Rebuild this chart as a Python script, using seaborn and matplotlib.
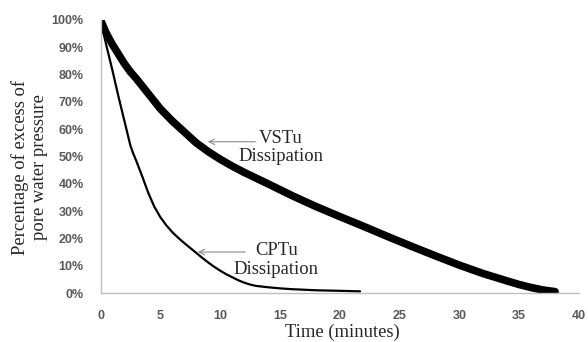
import pandas as pd
import matplotlib
matplotlib.use('Agg')
import matplotlib.pyplot as plt
import seaborn as sns

# VSTu dissipation (time in minutes, % excess pore pressure)
vstu_time = [0, 0.25, 0.5, 1, 1.5, 2, 2.5, 3, 4, 5, 6, 7, 8, 9, 10, 11, 12,
             14, 16, 18, 20, 22, 24, 26, 28, 30, 32, 34, 35, 36, 37, 38]
vstu_pct = [100, 97.5, 95, 91, 87.5, 84, 81, 78.5, 73, 67.5, 63, 59, 55,
            51.8, 49, 46.5, 44.2, 40, 35.7, 31.7, 28, 24.4, 20.7, 17.1, 13.6,
            10.2, 7.1, 4.4, 3.1, 2, 1.1, 0.5]

# CPTu dissipation
cptu_time = [0, 0.5, 1, 1.5, 2, 2.5, 2.7, 3, 3.5, 4, 4.5, 5, 5.5, 6, 6.5, 7,
             7.5, 8, 8.5, 9, 9.5, 10, 10.5, 11, 11.5, 12, 12.5, 13, 14, 15,
             16, 18, 20, 21.7]
cptu_pct = [100, 90.5, 81.5, 72, 63, 54, 51.5, 48.3, 42.6, 36.6, 31.6, 27.8,
            24.8, 22.3, 20.2, 18.3, 16.5, 14.7, 12.9, 11.2, 9.6, 8.2, 6.9, 5.8,
            4.7, 3.8, 3.1, 2.6, 2.1, 1.7, 1.4, 1.0, 0.8, 0.6]

x_ticks = [0, 5, 10, 15, 20, 25, 30, 35, 40]
y_ticks = [0, 10, 20, 30, 40, 50, 60, 70, 80, 90, 100]

vstu = pd.DataFrame({'time': vstu_time, 'pct': vstu_pct})
cptu = pd.DataFrame({'time': cptu_time, 'pct': cptu_pct})

sns.set_style('white')
plt.rcParams['font.family'] = ['Liberation Sans', 'DejaVu Sans']

fig = plt.figure(figsize=(5.88, 3.42), dpi=100)
ax = fig.add_axes([100.5 / 588, 1 - 293 / 342, 478.5 / 588, 273 / 342])

sns.lineplot(data=vstu, x='time', y='pct', ax=ax, color='black',
             linewidth=5.5, estimator=None, sort=False)
sns.lineplot(data=cptu, x='time', y='pct', ax=ax, color='black',
             linewidth=1.6, estimator=None, sort=False)

ax.set_xlim(0, 40)
ax.set_ylim(0, 100)
ax.set_xticks(x_ticks)
ax.set_yticks(y_ticks)
ax.set_yticklabels([f'{v}%' for v in y_ticks])
ax.tick_params(length=0, labelsize=9, labelcolor='#595959', pad=12)
for lab in ax.get_xticklabels() + ax.get_yticklabels():
    lab.set_fontweight('bold')
ax.set_xlabel('')
ax.set_ylabel('')

for side in ['top', 'right']:
    ax.spines[side].set_visible(False)
for side in ['left', 'bottom']:
    ax.spines[side].set_color('#BFBFBF')
    ax.spines[side].set_linewidth(1)
    ax.spines[side].set_zorder(5)

serif = ['Liberation Serif', 'DejaVu Serif']
arrow = dict(arrowstyle='->', color='#8C8C8C', lw=0.8)

ax.annotate('', xy=(8.74, 55.4), xytext=(13.17, 55.4), arrowprops=arrow)
ax.text(15.1, 53.3, 'VSTu\nDissipation', ha='center', va='center',
        fontsize=13.4, family=serif, linespacing=1.1)

ax.annotate('', xy=(7.9, 15.0), xytext=(12.33, 15.0), arrowprops=arrow)
ax.text(14.7, 12.1, 'CPTu\nDissipation', ha='center', va='center',
        fontsize=13.4, family=serif, linespacing=1.1)

fig.text(30 / 588, 1 - 167.5 / 342, 'Percentage of excess of\npore water pressure',
         rotation=90, ha='center', va='center', fontsize=13.4, family=serif,
         linespacing=1.15)
fig.text(342 / 588, 1 - 332 / 342, 'Time (minutes)', ha='center', va='center',
         fontsize=13.4, family=serif)

fig.savefig('out.png', dpi=100)
